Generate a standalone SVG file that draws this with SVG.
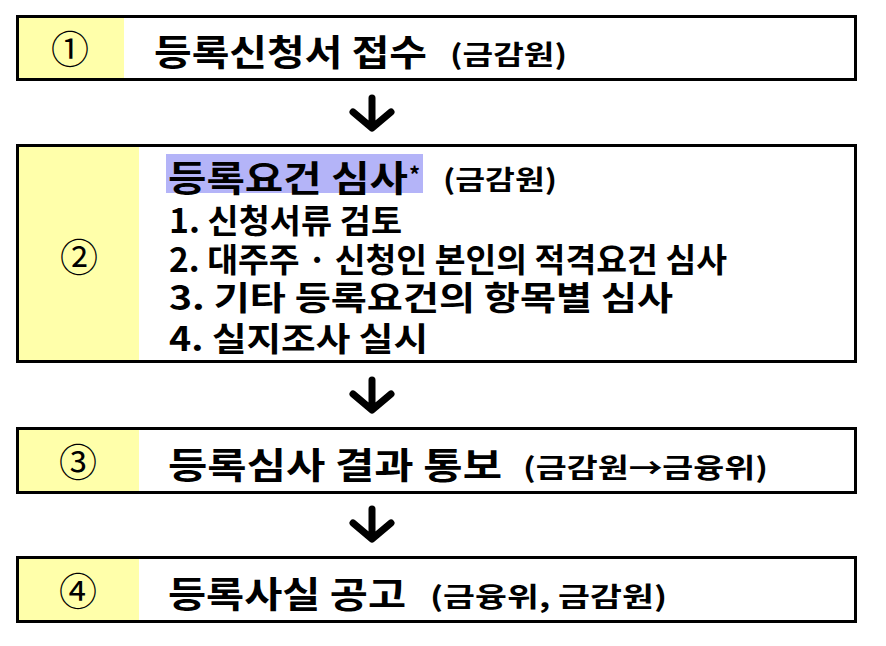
<svg xmlns="http://www.w3.org/2000/svg" width="886" height="646" viewBox="0 0 886 646">
<style>
.box{fill:#ffffff;stroke:#000000;stroke-width:3}
.yel{fill:#ffffaa}
.num{font-family:"Noto Sans CJK KR","Noto Sans",sans-serif;font-size:38px;font-weight:400;fill:#000;text-anchor:middle}
.t{font-family:"Noto Sans CJK KR",sans-serif;font-size:36px;font-weight:700;fill:#000}
.s{font-family:"Noto Sans CJK KR",sans-serif;font-size:27px;font-weight:700;fill:#000}
.l{font-family:"Noto Sans CJK KR",sans-serif;font-size:33px;font-weight:700;fill:#000}
.arr{fill:none;stroke:#000;stroke-width:7;stroke-linecap:round;stroke-linejoin:round}
</style>
<rect width="886" height="646" fill="#ffffff"/>
<g id="node1">
<rect class="box" x="17.5" y="16.5" width="838" height="63"/>
<rect class="yel" x="19" y="18" width="105" height="60"/>
<text class="num" x="70" y="63">①</text>
<text class="t" x="154" y="66" textLength="273" lengthAdjust="spacingAndGlyphs">등록신청서 접수</text>
<text class="s" x="450" y="65" textLength="117" lengthAdjust="spacingAndGlyphs">(금감원)</text>
</g>
<g id="node2">
<rect class="box" x="17.5" y="145.5" width="838" height="216"/>
<rect class="yel" x="19" y="147" width="120" height="213"/>
<rect x="166" y="154" width="257" height="39" fill="#b4b4f8"/>
<text class="num" x="79" y="271">②</text>
<text class="t" x="168" y="192" textLength="240" lengthAdjust="spacingAndGlyphs">등록요건 심사</text>
<text class="s" x="409" y="183" style="font-size:22px">*</text>
<text class="s" x="443" y="190" textLength="114" lengthAdjust="spacingAndGlyphs">(금감원)</text>
<text class="l" x="169" y="233" textLength="233" lengthAdjust="spacingAndGlyphs">1. 신청서류 검토</text>
<text class="l" x="169" y="272" textLength="558" lengthAdjust="spacingAndGlyphs">2. 대주주 · 신청인 본인의 적격요건 심사</text>
<text class="l" x="169" y="310" textLength="504" lengthAdjust="spacingAndGlyphs">3. 기타 등록요건의 항목별 심사</text>
<text class="l" x="169" y="351" textLength="259" lengthAdjust="spacingAndGlyphs">4. 실지조사 실시</text>
</g>
<g id="node3">
<rect class="box" x="17.5" y="428.5" width="838" height="64"/>
<rect class="yel" x="19" y="430" width="120" height="61"/>
<text class="num" x="78" y="476">③</text>
<text class="t" x="168" y="479" textLength="334" lengthAdjust="spacingAndGlyphs">등록심사 결과 통보</text>
<text class="s" x="523" y="478" textLength="245" lengthAdjust="spacingAndGlyphs">(금감원→금융위)</text>
</g>
<g id="node4">
<rect class="box" x="17.5" y="557.5" width="838" height="64"/>
<rect class="yel" x="19" y="559" width="120" height="61"/>
<text class="num" x="78" y="605">④</text>
<text class="t" x="168" y="608" textLength="238" lengthAdjust="spacingAndGlyphs">등록사실 공고</text>
<text class="s" x="430" y="607" textLength="237" lengthAdjust="spacingAndGlyphs">(금융위, 금감원)</text>
</g>
<g id="connectors">
<path class="arr" d="M372,98 V125 M353,112 L372,128 L391,112"/>
<path class="arr" d="M372,380 V407 M353,394 L372,410 L391,394"/>
<path class="arr" d="M372,509 V536 M353,523 L372,539 L391,523"/>
</g>
</svg>
